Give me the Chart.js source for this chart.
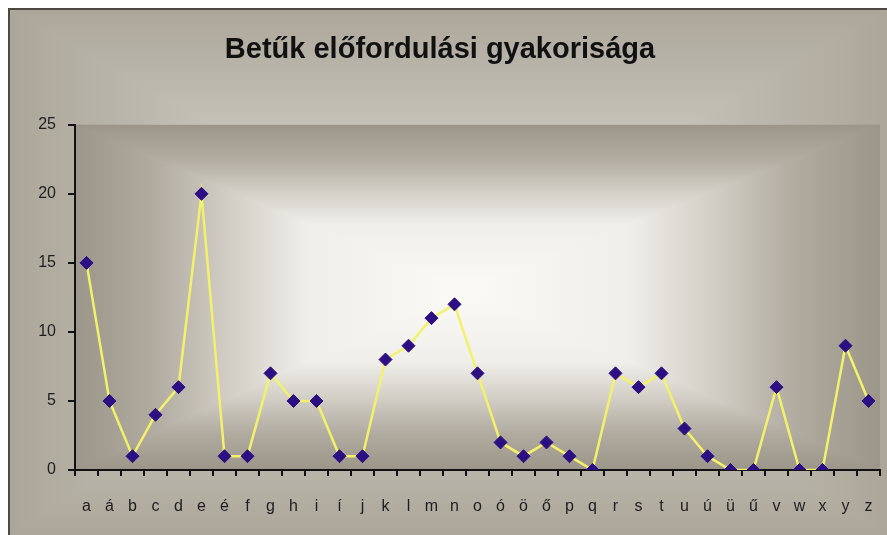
<!DOCTYPE html>
<html>
<head>
<meta charset="utf-8">
<script src="https://cdn.jsdelivr.net/npm/chart.js@4"></script>
<style>
  html, body { margin: 0; padding: 0; background: #fff; }
  #wrap { width: 887px; height: 535px; }
</style>
</head>
<body>
<div id="wrap"><canvas id="letterChart" width="887" height="535"></canvas></div>
<script>
// letters (x axis) and counts
const letters = ['a','á','b','c','d','e','é','f','g','h','i','í','j','k','l','m','n','o','ó','ö','ő','p','q','r','s','t','u','ú','ü','ű','v','w','x','y','z'];
const counts  = [15, 5, 1, 4, 6, 20, 1, 1, 7, 5, 5, 1, 1, 8, 9, 11, 12, 7, 2, 1, 2, 1, 0, 7, 6, 7, 3, 1, 0, 0, 6, 0, 0, 9, 5];
const yTicks  = [0, 5, 10, 15, 20, 25];

const FONT = '"Liberation Sans", Arial, sans-serif';

// "from center" box gradient: a vertical and a horizontal ramp combined with darken
function boxGradient(ctx, x0, y0, x1, y1, cx, cy, stops) {
    const ramp = (g, a, b, c) => {
        const pc = (c - a) / (b - a);
        for (let i = stops.length - 1; i >= 0; i--) g.addColorStop(pc * (1 - stops[i][0]), stops[i][1]);
        for (let i = 1; i < stops.length; i++) g.addColorStop(pc + (1 - pc) * stops[i][0], stops[i][1]);
        return g;
    };
    ctx.save();
    ctx.fillStyle = ramp(ctx.createLinearGradient(0, y0, 0, y1), y0, y1, cy);
    ctx.fillRect(x0, y0, x1 - x0, y1 - y0);
    ctx.globalCompositeOperation = 'darken';
    ctx.fillStyle = ramp(ctx.createLinearGradient(x0, 0, x1, 0), x0, x1, cx);
    ctx.fillRect(x0, y0, x1 - x0, y1 - y0);
    ctx.restore();
}

const outerStops = [[0, '#d3d0c7'], [0.5, '#c7c3b9'], [1, '#aca69a']];
const plotStops  = [[0, '#fbfaf7'], [0.4, '#efeee9'], [0.62, '#cfcbc2'], [0.8, '#b0aa9f'], [1, '#9c958a']];

const backdrop = {
    id: 'backdrop',
    beforeDraw(chart) {
        const ctx = chart.ctx;
        const W = chart.width, H = chart.height;
        ctx.save();
        ctx.fillStyle = '#ffffff';
        ctx.fillRect(0, 0, W, H);
        boxGradient(ctx, 8, 8, W, H, 450, 260, outerStops);

        // frame lines top and left
        ctx.fillStyle = '#4d4842';
        ctx.fillRect(8, 8, W - 8, 2);
        ctx.fillRect(8, 8, 2, H - 8);

        const a = chart.chartArea;
        boxGradient(ctx, a.left, a.top, a.right, a.bottom, 462, 290, plotStops);
        ctx.restore();
    }
};

new Chart(document.getElementById('letterChart'), {
    type: 'line',
    data: {
        labels: letters,
        datasets: [{
            data: counts,
            borderColor: '#f2f26a',
            borderWidth: 2.5,
            tension: 0,
            pointStyle: 'rectRot',
            pointRadius: 6.5,
            pointBackgroundColor: '#2c0f82',
            pointBorderColor: '#2c0f82',
            pointBorderWidth: 1
        }]
    },
    options: {
        responsive: false,
        animation: false,
        events: [],
        layout: { autoPadding: false, padding: { left: 0, right: 7, top: 0, bottom: 0 } },
        plugins: {
            legend: { display: false },
            tooltip: { enabled: false },
            title: {
                display: true,
                text: 'Betűk előfordulási gyakorisága',
                color: '#111111',
                font: { family: FONT, size: 29, weight: 'bold', lineHeight: 1.2 },
                padding: { top: 33, bottom: 57 }
            }
        },
        scales: {
            x: {
                offset: true,
                grid: { offset: true, drawOnChartArea: false, drawTicks: true, tickLength: 6, color: '#111', lineWidth: 2 },
                border: { display: true, color: '#111', width: 2 },
                ticks: { color: '#1e1e1e', font: { family: FONT, size: 16 }, padding: 21, autoSkip: false, maxRotation: 0 },
                afterFit(scale) {
                    scale.height = 65;
                    scale.paddingLeft = 0;
                    scale.paddingRight = 0;
                }
            },
            y: {
                min: 0,
                max: 25,
                afterBuildTicks(scale) { scale.ticks = yTicks.map(v => ({ value: v })); },
                grid: { drawOnChartArea: false, drawTicks: true, tickLength: 7, color: '#111', lineWidth: 2 },
                border: { display: true, color: '#111', width: 2 },
                ticks: { color: '#1e1e1e', font: { family: FONT, size: 16 }, padding: 12 },
                afterFit(scale) { scale.width = 75; }
            }
        }
    },
    plugins: [backdrop]
});
</script>
</body>
</html>
